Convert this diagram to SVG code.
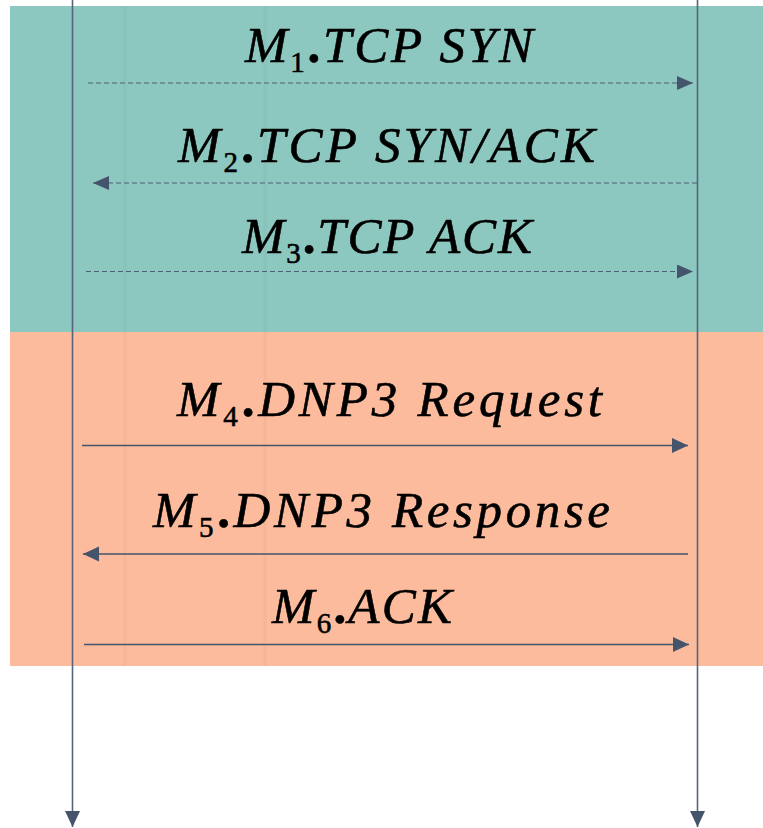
<svg xmlns="http://www.w3.org/2000/svg" width="763" height="828" viewBox="0 0 763 828">
  <style>
    .lbl { font-family: "Liberation Serif", "DejaVu Serif", serif; font-size: 51px; fill: #000; stroke: #000; stroke-width: 0.6; }
    .it { font-style: italic; }
    .sub { font-style: normal; font-size: 29px; }
    .dot { font-style: normal; font-weight: bold; }
    .life { stroke: #56657b; stroke-width: 1.6; fill: none; }
    .msg { stroke: #44546a; stroke-width: 1.3; fill: none; }
    .dash { stroke: #4f5f75; stroke-width: 1.2; stroke-dasharray: 5 3; fill: none; }
    .faint { stroke: #000; stroke-opacity: 0.025; stroke-width: 3; fill: none; }
  </style>
  <defs>
    <marker id="head" markerUnits="userSpaceOnUse" markerWidth="16" markerHeight="16" viewBox="0 0 16 16" refX="16" refY="8" orient="auto">
      <path d="M0,0.5 L16,8 L0,15.5 Z" fill="#44546a"/>
    </marker>
    <marker id="headS" markerUnits="userSpaceOnUse" markerWidth="16" markerHeight="14" viewBox="0 0 16 14" refX="16" refY="7" orient="auto">
      <path d="M0,0 L16,7 L0,14 Z" fill="#44546a"/>
    </marker>
  </defs>

  <rect width="763" height="828" fill="#ffffff"/>

  <!-- phase bands -->
  <g id="phase-tcp">
    <rect x="10" y="6" width="753" height="326" fill="#8cc8c0"/>
  </g>
  <g id="phase-dnp3">
    <rect x="10" y="332" width="753" height="334" fill="#fbbb9c"/>
  </g>

  <!-- faint background texture -->
  <g id="texture">
    <line class="faint" x1="125" y1="6" x2="125" y2="666"/>
    <line class="faint" x1="265" y1="6" x2="265" y2="666"/>
  </g>

  <!-- lifelines and messages -->
  <g id="connectors">
    <line class="life" x1="72.5" y1="0" x2="72.5" y2="827" marker-end="url(#head)"/>
    <line class="life" x1="697.5" y1="0" x2="697.5" y2="827" marker-end="url(#head)"/>

    <line class="dash" x1="88" y1="83" x2="693" y2="83" marker-end="url(#headS)"/>
    <line class="dash" x1="697" y1="183" x2="93" y2="183" marker-end="url(#headS)"/>
    <line class="dash" x1="86" y1="271.5" x2="693" y2="271.5" marker-end="url(#headS)"/>

    <line class="msg" x1="82" y1="445.5" x2="688" y2="445.5" marker-end="url(#head)"/>
    <line class="msg" x1="688" y1="554" x2="83" y2="554" marker-end="url(#head)"/>
    <line class="msg" x1="84" y1="644.5" x2="689" y2="644.5" marker-end="url(#head)"/>
  </g>

  <!-- message labels -->
  <g id="m1">
    <text class="lbl" x="245" y="61.5" textLength="288" lengthAdjust="spacing"><tspan class="it">M</tspan><tspan class="sub" dy="10">1</tspan><tspan class="dot" dy="-10">.</tspan><tspan class="it">TCP SYN</tspan></text>
  </g>
  <g id="m2">
    <text class="lbl" x="178" y="161.5" textLength="417" lengthAdjust="spacing"><tspan class="it">M</tspan><tspan class="sub" dy="10">2</tspan><tspan class="dot" dy="-10">.</tspan><tspan class="it">TCP SYN/ACK</tspan></text>
  </g>
  <g id="m3">
    <text class="lbl" x="242" y="253" textLength="290" lengthAdjust="spacing"><tspan class="it">M</tspan><tspan class="sub" dy="10">3</tspan><tspan class="dot" dy="-10">.</tspan><tspan class="it">TCP ACK</tspan></text>
  </g>
  <g id="m4">
    <text class="lbl" x="177" y="415.5" textLength="425" lengthAdjust="spacing"><tspan class="it">M</tspan><tspan class="sub" dy="10">4</tspan><tspan class="dot" dy="-10">.</tspan><tspan class="it">DNP3 Request</tspan></text>
  </g>
  <g id="m5">
    <text class="lbl" x="153" y="527" textLength="457" lengthAdjust="spacing"><tspan class="it">M</tspan><tspan class="sub" dy="10">5</tspan><tspan class="dot" dy="-10">.</tspan><tspan class="it">DNP3 Response</tspan></text>
  </g>
  <g id="m6">
    <text class="lbl" x="272" y="623" textLength="180" lengthAdjust="spacing"><tspan class="it">M</tspan><tspan class="sub" dy="10">6</tspan><tspan class="dot" dy="-10">.</tspan><tspan class="it">ACK</tspan></text>
  </g>
</svg>
